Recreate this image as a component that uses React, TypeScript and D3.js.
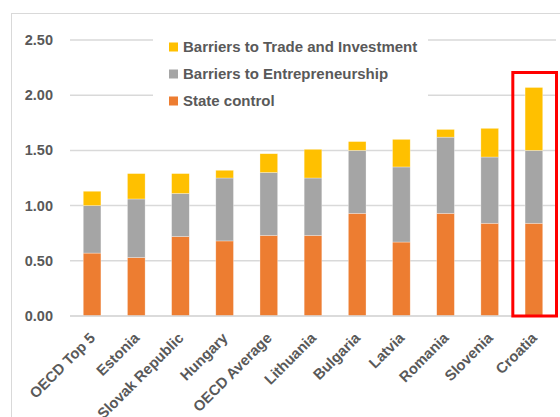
import * as d3 from "d3";

const categories = ["OECD Top 5", "Estonia", "Slovak Republic", "Hungary", "OECD Average", "Lithuania", "Bulgaria", "Latvia", "Romania", "Slovenia", "Croatia"];
const stateControl = [0.57, 0.53, 0.72, 0.68, 0.73, 0.73, 0.93, 0.67, 0.93, 0.84, 0.84];
const entrepreneurship = [0.43, 0.53, 0.39, 0.57, 0.57, 0.52, 0.57, 0.68, 0.69, 0.6, 0.66];
const tradeInvestment = [0.13, 0.23, 0.18, 0.07, 0.17, 0.26, 0.08, 0.25, 0.07, 0.26, 0.57];
const yTicks = [0, 0.5, 1, 1.5, 2, 2.5];

const seriesNames = ["State control", "Barriers to Entrepreneurship", "Barriers to Trade and Investment"];
const colors = ["#ED7D31", "#A5A5A5", "#FFC000"];
const highlight = "Croatia";

const width = 560;
const height = 417;
const font = "'Liberation Sans', Arial, sans-serif";
const textColor = "#595959";

const App = () => {
  const x = d3.scaleBand().domain(categories).range([70, 556]).paddingInner(0.6).paddingOuter(0.3);
  const y = d3.scaleLinear().domain([0, 2.5]).range([316, 40]);

  const rows = categories.map((c, i) => ({
    cat: c,
    s0: stateControl[i],
    s1: entrepreneurship[i],
    s2: tradeInvestment[i],
  }));
  const stack = d3.stack<any>().keys(["s0", "s1", "s2"])(rows);

  const step = x.step();
  const hx = (x(highlight) as number) + x.bandwidth() / 2;

  return (
    <svg width={width} height={height} style={{ position: "absolute", left: 0, top: 0, background: "#fff" }} fontFamily={font}>
      <rect x={11.5} y={13.5} width={560} height={420} fill="#fff" stroke="#d9d9d9" strokeWidth={1} />
      {yTicks.map((t) => (
        <g key={t}>
          <line x1={70} x2={556} y1={y(t)} y2={y(t)} stroke="#d9d9d9" strokeWidth={1.5} />
          <text x={53} y={y(t)} dy="0.35em" textAnchor="end" fontSize={14.5} fontWeight="bold" fill={textColor}>
            {t.toFixed(2)}
          </text>
        </g>
      ))}
      {stack.map((layer, li) => (
        <g key={li} fill={colors[li]}>
          {layer.map((d: any, i: number) => (
            <rect
              key={i}
              x={x(categories[i])}
              width={x.bandwidth()}
              y={y(d[1])}
              height={y(d[0]) - y(d[1])}
              stroke="#fff"
              strokeOpacity={0.5}
              strokeWidth={0.6}
            />
          ))}
        </g>
      ))}
      <line x1={70} x2={556} y1={y(0)} y2={y(0)} stroke="#d9d9d9" strokeWidth={1.5} />
      {categories.map((c) => {
        const cx = (x(c) as number) + x.bandwidth() / 2;
        return (
          <text
            key={c}
            transform={`translate(${cx + 4},${y(0) + 23}) rotate(-45)`}
            textAnchor="end"
            fontSize={14.8}
            fontWeight="bold"
            fill={textColor}
          >
            {c}
          </text>
        );
      })}
      <rect x={153} y={30} width={275} height={84} fill="#fff" />
      {[2, 1, 0].map((si, k) => (
        <g key={si} transform={`translate(169,${47 + k * 27})`}>
          <rect x={0} y={-4.5} width={9} height={9} fill={colors[si]} />
          <text x={14} y={0} dy="0.35em" fontSize={15} fontWeight="bold" fill={textColor}>
            {seriesNames[si]}
          </text>
        </g>
      ))}
      <rect
        x={hx - step / 2 + 1}
        y={72.5}
        width={step - 0.5}
        height={y(0) - 72.5}
        fill="none"
        stroke="#FF0000"
        strokeWidth={3}
      />
    </svg>
  );
};

export default App;
